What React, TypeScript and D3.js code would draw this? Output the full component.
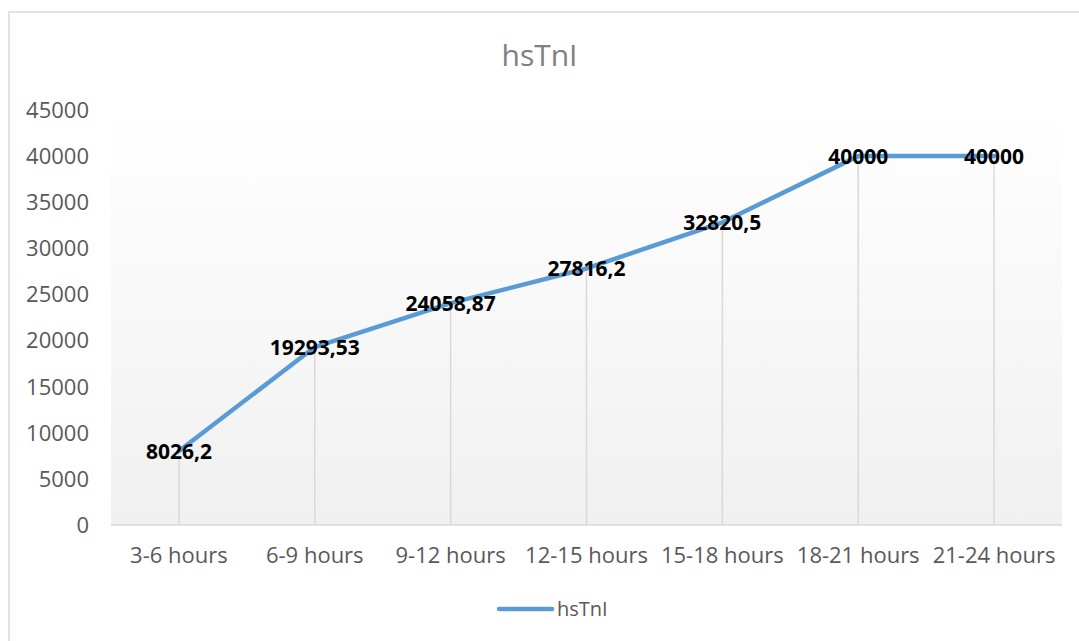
import * as d3 from "d3";

const categories = [
  "3-6 hours",
  "6-9 hours",
  "9-12 hours",
  "12-15 hours",
  "15-18 hours",
  "18-21 hours",
  "21-24 hours",
];
const values = [8026.2, 19293.53, 24058.87, 27816.2, 32820.5, 40000, 40000];
const valueLabels = ["8026,2", "19293,53", "24058,87", "27816,2", "32820,5", "40000", "40000"];
const yTicks = [0, 5000, 10000, 15000, 20000, 25000, 30000, 35000, 40000, 45000];
const seriesName = "hsTnI";

const W = 1079;
const H = 641;
const plot = { left: 111, right: 1062, top: 110, bottom: 525 };
const font = "'Open Sans', sans-serif";
const lineColor = "#5B9BD5";
const gridColor = "#d9d9d9";
const textColor = "#595959";

export default function App() {
  const x = d3
    .scaleBand<string>()
    .domain(categories)
    .range([plot.left, plot.right]);
  const y = d3.scaleLinear().domain([0, 45000]).range([plot.bottom, plot.top]);
  const cx = (c: string) => (x(c) ?? 0) + x.bandwidth() / 2;

  const line = d3
    .line<number>()
    .x((_, i) => cx(categories[i]))
    .y((d) => y(d));

  return (
    <svg
      width={W}
      height={H}
      style={{ position: "absolute", left: 0, top: 0, background: "#fff" }}
    >
      <defs>
        <linearGradient id="plotBg" x1="0" y1="0" x2="0" y2="1">
          <stop offset="0" stopColor="#ffffff" />
          <stop offset="1" stopColor="#f0f0f0" />
        </linearGradient>
      </defs>
      {/* chart border, runs off the right and bottom edges */}
      <rect x={9} y={12} width={W + 20} height={H + 20} fill="#fff" stroke={gridColor} strokeWidth={1.5} />

      <rect
        x={plot.left}
        y={plot.top}
        width={plot.right - plot.left}
        height={plot.bottom - plot.top}
        fill="url(#plotBg)"
      />

      <text x={W / 2} y={66} textAnchor="middle" fontFamily={font} fontSize={30} fill="#808080">
        {seriesName}
      </text>

      {/* y tick labels */}
      {yTicks.map((t) => (
        <text
          key={t}
          x={89}
          y={y(t)}
          dy="0.36em"
          textAnchor="end"
          fontFamily={font}
          fontSize={22}
          fill={textColor}
        >
          {t}
        </text>
      ))}

      {/* drop lines */}
      {values.map((v, i) => (
        <line
          key={i}
          x1={cx(categories[i])}
          x2={cx(categories[i])}
          y1={y(v)}
          y2={plot.bottom}
          stroke={gridColor}
          strokeWidth={1.5}
        />
      ))}

      <line x1={plot.left} x2={plot.right} y1={plot.bottom} y2={plot.bottom} stroke={gridColor} strokeWidth={1.5} />

      {/* x labels */}
      {categories.map((c) => (
        <text
          key={c}
          x={cx(c)}
          y={563}
          textAnchor="middle"
          fontFamily={font}
          fontSize={22}
          fill={textColor}
        >
          {c}
        </text>
      ))}

      <path
        d={line(values) ?? ""}
        fill="none"
        stroke={lineColor}
        strokeWidth={4.5}
        strokeLinecap="round"
        strokeLinejoin="round"
      />

      {/* data labels */}
      {values.map((v, i) => (
        <text
          key={i}
          x={cx(categories[i])}
          y={y(v)}
          dy="0.36em"
          textAnchor="middle"
          fontFamily={font}
          fontWeight="bold"
          fontSize={21}
          fill="#000"
        >
          {valueLabels[i]}
        </text>
      ))}

      {/* legend */}
      <line x1={499} x2={552} y1={609} y2={609} stroke={lineColor} strokeWidth={4.5} strokeLinecap="round" />
      <text x={557} y={609} dy="0.36em" fontFamily={font} fontSize={20} fill={textColor}>
        {seriesName}
      </text>
    </svg>
  );
}
